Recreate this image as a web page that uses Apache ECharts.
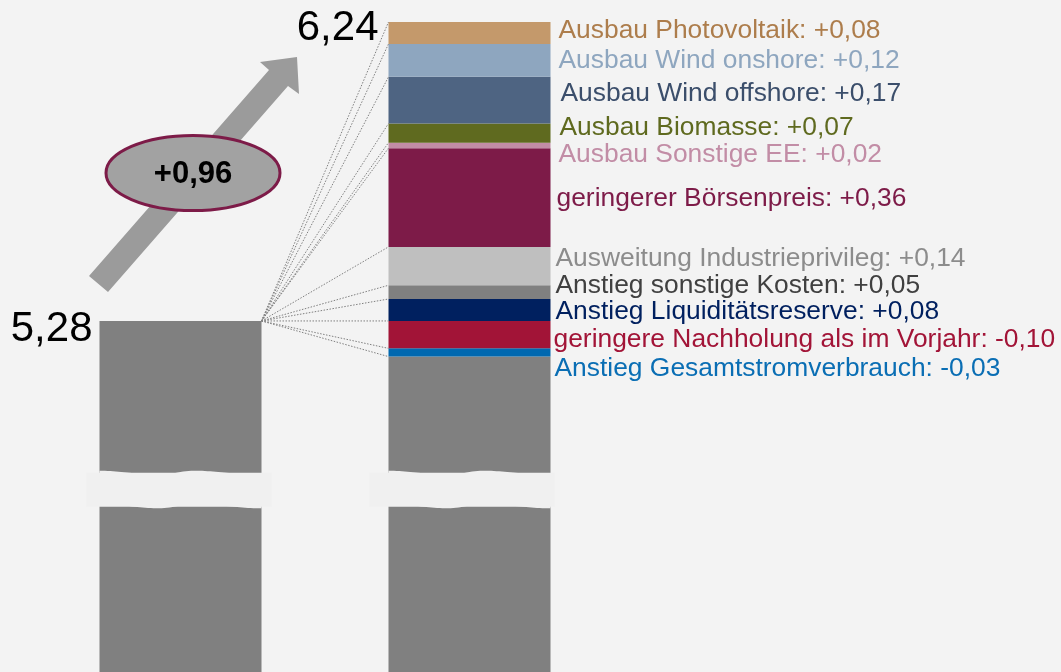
<!DOCTYPE html>
<html><head><meta charset="utf-8">
<script src="https://cdn.jsdelivr.net/npm/echarts@6/dist/echarts.min.js"></script>
<style>html,body{margin:0;padding:0;background:#f3f3f3;}#c{width:1061px;height:672px;}</style>
</head><body><div id="c"></div>
<script>
// ---- data ----
const categories = ['Vorjahr', 'Aktuell'];
const startValue = 5.28;
const componentNames = [
  'Ausbau Photovoltaik', 'Ausbau Wind onshore', 'Ausbau Wind offshore', 'Ausbau Biomasse',
  'Ausbau Sonstige EE', 'geringerer Börsenpreis', 'Ausweitung Industrieprivileg',
  'Anstieg sonstige Kosten', 'Anstieg Liquiditätsreserve',
  'geringere Nachholung als im Vorjahr', 'Anstieg Gesamtstromverbrauch'
];
const componentValues = [0.08, 0.12, 0.17, 0.07, 0.02, 0.36, 0.14, 0.05, 0.08, -0.10, -0.03];

// ---- styles ----
const barColors = ['#c4996b', '#8ea6bf', '#4e6482', '#5f6a1f', '#c28da6', '#7d1b48', '#bfbfbf', '#808080', '#00205f', '#a21437', '#0068b0'];
const textColors = ['#ad7d4c', '#8ea6bf', '#3b4e6b', '#5f6a1f', '#c28da6', '#7d1b48', '#8c8c8c', '#404040', '#00205f', '#a21437', '#0a6eb4'];
const labelDist = [8, 8, 10, 9, 8, 6, 5, 5, 5, 3, 4];
const labelDy = [-2.4, 0, -6.4, -5.8, 9.8, 0.8, -7.3, -6.2, 2.2, 5, 16];
const FONT = '"Liberation Sans", Arial, sans-serif';
const baseColor = '#808080';
const BW = 162;

const fmt = v => (v >= 0 ? '+' : '-') + Math.abs(v).toFixed(2).replace('.', ',');
const fmtAbs = v => v.toFixed(2).replace('.', ',');

const negSum = componentValues.filter(v => v < 0).reduce((a, b) => a + b, 0);
const posSum = componentValues.filter(v => v > 0).reduce((a, b) => a + b, 0);
const rightBase = startValue + negSum;
const topValue = startValue + posSum;
const netTotal = startValue + posSum + negSum;

const series = [{
  type: 'bar', stack: 's', barWidth: BW, silent: true,
  data: [startValue, +rightBase.toFixed(4)],
  itemStyle: { color: baseColor }
}];
for (let i = componentValues.length - 1; i >= 0; i--) {
  series.push({
    type: 'bar', stack: 's', barWidth: BW, silent: true,
    data: ['-', Math.abs(componentValues[i])],
    itemStyle: { color: barColors[i] },
    label: {
      show: true, position: 'right', distance: labelDist[i], offset: [0, labelDy[i]],
      formatter: componentNames[i] + ': ' + fmt(componentValues[i]),
      color: textColors[i], fontSize: 26.4, fontFamily: FONT
    }
  });
}

const chart = echarts.init(document.getElementById('c'), null, { renderer: 'canvas' });
chart.setOption({
  backgroundColor: '#f3f3f3',
  animation: false,
  grid: { left: 36, right: 447, top: 22, bottom: 0 },
  xAxis: { type: 'category', data: categories, show: false },
  yAxis: { type: 'value', min: 4.0, max: +topValue.toFixed(4), show: false },
  series: series
});

const px = (c, v) => chart.convertToPixel({ gridIndex: 0 }, [c, v]);
const p0 = px(0, startValue);
const leftL = p0[0] - BW / 2, leftR = p0[0] + BW / 2, y0 = p0[1];
const p1 = px(1, topValue);
const rightL = p1[0] - BW / 2, rightR = p1[0] + BW / 2, yTop = p1[1];

const g = [];
// dotted lines
const bounds = [rightBase];
let acc = rightBase;
for (let i = componentValues.length - 1; i >= 0; i--) { acc += Math.abs(componentValues[i]); bounds.push(acc); }
bounds.forEach(b => {
  const yb = px(1, b)[1];
  g.push({ type: 'line', z: 10, shape: { x1: leftR, y1: y0, x2: rightL, y2: yb },
    style: { stroke: '#808080', lineWidth: 1, lineDash: [1.5, 1.5] } });
});
// break bands (wavy)
function wave(f, hi, lo) {
  const cs = t => (1 - Math.cos(Math.PI * t)) / 2;
  if (f <= 0.37) return hi + (lo - hi) * cs(f / 0.37);
  if (f <= 0.58) return lo + (hi - lo) * cs((f - 0.37) / 0.21);
  return hi + (lo - hi) * cs((f - 0.58) / 0.42);
}
function band(x0, w, ext0, ext1) {
  const t0 = 470.7, t1 = 475, b0 = 504, b1 = 508.3;
  g.push({ type: 'rect', z: 11, shape: { x: x0 - ext0, y: 472.7, width: w + ext0 + ext1, height: 34 }, style: { fill: '#f0f0f0' } });
  const pts = [];
  const N = 60;
  for (let k = 0; k <= N; k++) { const f = k / N; pts.push([x0 + f * w, wave(f, t0, t1)]); }
  for (let k = N; k >= 0; k--) { const f = k / N; pts.push([x0 + f * w, wave(f, b0, b1)]); }
  g.push({ type: 'polygon', z: 12, shape: { points: pts }, style: { fill: '#f0f0f0' } });
}
band(leftL, BW, 13, 10);
band(rightL, BW, 19, 4);
// arrow
g.push({ type: 'polygon', z: 5, shape: { points: [[89, 276], [269, 70], [260, 62], [297, 57], [299, 94], [288, 86], [108, 292]] }, style: { fill: '#9b9b9b' } });
g.push({ type: 'ellipse', z: 6, shape: { cx: 193, cy: 173, rx: 87, ry: 37.5 }, style: { fill: '#a2a2a2', stroke: '#7d1b48', lineWidth: 3 } });
g.push({ type: 'text', z: 7, style: { text: fmt(posSum + negSum), x: 193, y: 174, align: 'center', verticalAlign: 'middle', font: 'bold 31px ' + FONT, fill: '#000' } });
// value labels
g.push({ type: 'text', z: 7, style: { text: fmtAbs(netTotal), x: rightL - 10, y: yTop + 6, align: 'right', verticalAlign: 'middle', font: '42px ' + FONT, fill: '#000' } });
g.push({ type: 'text', z: 7, style: { text: fmtAbs(startValue), x: leftL - 7, y: y0 + 8, align: 'right', verticalAlign: 'middle', font: '42px ' + FONT, fill: '#000' } });

chart.setOption({ graphic: { elements: g } });
</script>
</body></html>
